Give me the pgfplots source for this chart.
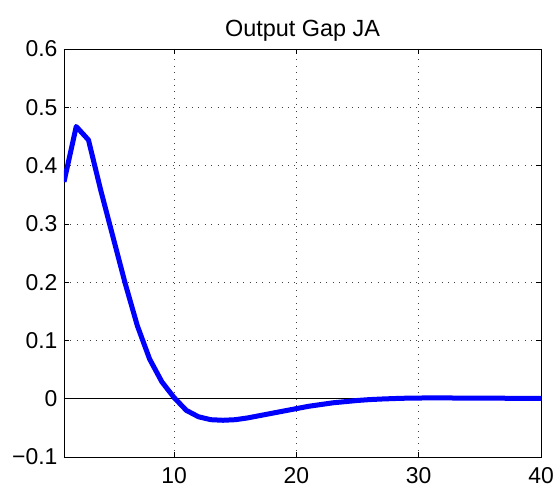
\documentclass[border=0pt]{standalone}
\usepackage{fontspec}
\setmainfont{Liberation Sans}
\usepackage{pgfplots}
\pgfplotsset{compat=1.18}
\begin{document}
\begin{tikzpicture}
\begin{axis}[
  scale only axis,
  width=477bp, height=408bp,
  xmin=1, xmax=40, ymin=-0.1, ymax=0.6,
  xtick={10,20,30,40},
  ytick={-0.1,0,0.1,0.2,0.3,0.4,0.5,0.6},
  yticklabels={−0.1,0,0.1,0.2,0.3,0.4,0.5,0.6},
  xticklabels={10,20,30,40},
  tick align=inside,
  major tick length=5bp,
  tick style={black, line width=0.6bp},
  xmajorgrids, ymajorgrids,
  grid style={black!75, line width=0.6bp, dash pattern=on 0.8bp off 5.6bp},
  axis line style={black, line width=0.9bp},
  tick label style={font=\fontsize{23}{25}\selectfont},
  yticklabel style={xshift=-3bp},
  xticklabel style={yshift=-7bp},
  title={Output Gap JA},
  title style={font=\fontsize{23.5}{25}\selectfont, yshift=-2bp},
  clip=true,
]
\addplot[black, line width=0.7bp, forget plot] coordinates {(1,0) (40,0)};
\addplot[blue, line width=5bp, line join=round] coordinates {
(1,0.372) (2,0.467) (3,0.444) (4,0.358) (5,0.278) (6,0.198) (7,0.125) (8,0.068)
(9,0.029) (10,0.002) (11,-0.020) (12,-0.031) (13,-0.036) (14,-0.037) (15,-0.036)
(16,-0.033) (17,-0.029) (18,-0.025) (19,-0.021) (20,-0.017) (21,-0.013) (22,-0.010)
(23,-0.007) (24,-0.005) (25,-0.003) (26,-0.0015) (27,-0.0005) (28,0.0003) (29,0.0009)
(30,0.0012) (31,0.0013) (32,0.0013) (33,0.0012) (34,0.0011) (35,0.0010) (36,0.0009)
(37,0.0008) (38,0.0007) (39,0.0006) (40,0.0005)};
\end{axis}
\pgfresetboundingbox
\path (-64bp,-38bp) rectangle (495bp,457bp);
\end{tikzpicture}
\end{document}
